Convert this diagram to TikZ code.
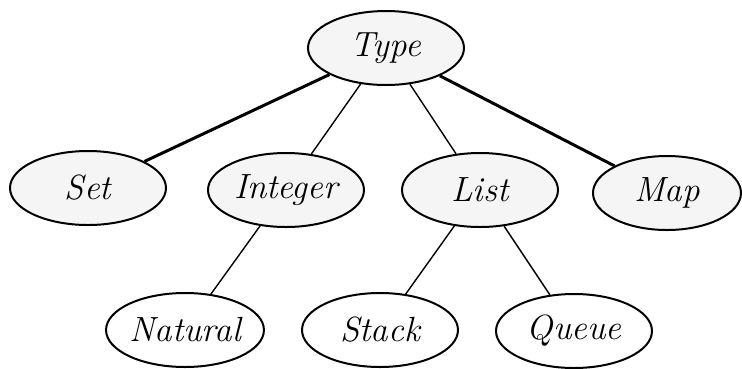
\documentclass[tikz,border=0pt]{standalone}
\usepackage{fontspec}
\usetikzlibrary{shapes.geometric,positioning}
\tikzstyle{kind} = [draw,ellipse,line width=2pt,inner sep=0pt,minimum width=156pt,minimum height=74pt,font=\fontsize{35}{40}\selectfont\itshape]
\tikzstyle{shaded} = [kind,fill=black!4]
\tikzstyle{edge} = [draw,line width=1.4pt]
\tikzstyle{heavy} = [draw,line width=3pt]

\begin{document}
\begin{tikzpicture}[on grid,x=1pt,y=1pt]
   \useasboundingbox (-386,-320) rectangle (356,48);
   \node[shaded] (type) at (0,0) {Type};
   \node[shaded] (set) [below left=140pt and 298pt of type] {Set};
   \node[shaded] (integer) [below left=142pt and 100pt of type] {Integer};
   \node[shaded] (list) [below right=142pt and 94pt of type] {List};
   \node[shaded,minimum width=148pt] (map) [below right=145pt and 281pt of type] {Map};
   \node[kind] (natural) [below left=140pt and 101pt of integer] {Natural};
   \node[kind] (stack) [below left=140pt and 100pt of list] {Stack};
   \node[kind] (queue) [below right=141pt and 94pt of list] {Queue};

   \path[heavy] (type) edge (set);
   \path[edge] (type) edge (integer);
   \path[edge] (type) edge (list);
   \path[heavy] (type) edge (map);
   \path[edge] (integer) edge (natural);
   \path[edge] (list) edge (stack);
   \path[edge] (list) edge (queue);

\end{tikzpicture}
\end{document}
